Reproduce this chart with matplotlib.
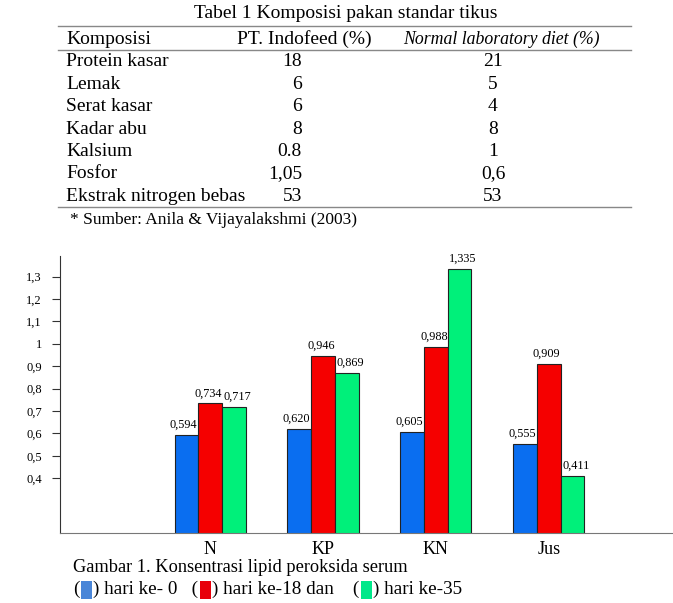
import numpy as np
from matplotlib import pyplot as plt
from matplotlib.patches import Rectangle
from matplotlib.offsetbox import TextArea, DrawingArea, HPacker, AnchoredOffsetbox

# table data
komposisi = ["Protein kasar", "Lemak", "Serat kasar", "Kadar abu", "Kalsium", "Fosfor", "Ekstrak nitrogen bebas"]
indofeed = ["18", "6", "6", "8", "0.8", "1,05", "53"]
normal_diet = ["21", "5", "4", "8", "1", "0,6", "53"]

# chart data
groups = ["N", "KP", "KN", "Jus"]
hari_0 = [0.594, 0.620, 0.605, 0.555]
hari_18 = [0.734, 0.946, 0.988, 0.909]
hari_35 = [0.717, 0.869, 1.335, 0.411]
yticks = [0.4, 0.5, 0.6, 0.7, 0.8, 0.9, 1.0, 1.1, 1.2, 1.3]

serif = "Liberation Serif"
W, H = 673, 603
fig = plt.figure(figsize=(W / 100, H / 100), dpi=100)

def fx(px):
    return px / W

def fy(py):
    return 1 - py / H

# ---- table ----
fig.text(fx(346), fy(14), "Tabel 1 Komposisi pakan standar tikus", ha="center", va="center",
         family=serif, fontsize=14)
for yy in (26, 50, 207):
    fig.add_artist(plt.Line2D([fx(58), fx(631)], [fy(yy), fy(yy)], color="#888888", lw=1))
fig.text(fx(66), fy(39), "Komposisi", ha="left", va="center", family=serif, fontsize=14)
fig.text(fx(237), fy(39), "PT. Indofeed (%)", ha="left", va="center", family=serif, fontsize=14)
fig.text(fx(403), fy(39), "Normal laboratory diet (%)", ha="left", va="center", family=serif,
         fontsize=12.8, style="italic")
for i, name in enumerate(komposisi):
    yy = 62 + i * 22.4
    fig.text(fx(66), fy(yy), name, ha="left", va="center", family=serif, fontsize=14)
    fig.text(fx(302), fy(yy), indofeed[i], ha="right", va="center", family=serif, fontsize=14)
    fig.text(fx(493), fy(yy), normal_diet[i], ha="center", va="center", family=serif, fontsize=14)
fig.text(fx(70), fy(220), "* Sumber: Anila & Vijayalakshmi (2003)", ha="left", va="center",
         family=serif, fontsize=12.5)

# ---- bar chart ----
ax = fig.add_axes([fx(60), fy(533), 1 - fx(60), fy(256) - fy(533)])
x = np.arange(len(groups))
w = 0.21
colors = ["#0a6ef0", "#f50000", "#00f07a"]
label_shift = [-2, -1.5, 2.5]
for k, (vals, c) in enumerate(zip([hari_0, hari_18, hari_35], colors)):
    bars = ax.bar(x + (k - 1) * w, vals, w, color=c, edgecolor="#222222", linewidth=0.8)
    for b, v in zip(bars, vals):
        ax.annotate(f"{v:.3f}".replace(".", ","), (b.get_x() + b.get_width() / 2, v),
                    xytext=(label_shift[k], 3), textcoords="offset points", ha="center", va="bottom",
                    family=serif, fontsize=8.8)

ax.set_xlim(-1.33, 4.1)
ax.set_ylim(0.156, 1.392)
ax.set_yticks(yticks)
ax.set_yticklabels([("%g" % t).replace(".", ",") for t in yticks], family=serif, fontsize=9)
ax.set_xticks(x)
ax.set_xticklabels(groups, family=serif, fontsize=13)
ax.tick_params(axis="x", length=0, pad=6)
ax.tick_params(axis="y", length=6, width=0.8, pad=7, color="#333333")
ax.spines["top"].set_visible(False)
ax.spines["right"].set_visible(False)
ax.spines["left"].set_color("#333333")
ax.spines["bottom"].set_color("#777777")

# ---- caption ----
fig.text(fx(73), fy(567), "Gambar 1. Konsentrasi lipid peroksida serum", ha="left", va="center",
         family=serif, fontsize=13.2)

legend_labels = [") hari ke- 0   (", ") hari ke-18 dan    (", ") hari ke-35"]
square_colors = ["#4a86d8", "#e8000a", "#00e88a"]
parts = [TextArea("(", textprops=dict(family=serif, fontsize=13.8))]
for sc, lab in zip(square_colors, legend_labels):
    da = DrawingArea(8, 12, 0, 0)
    da.add_artist(Rectangle((0, -1), 8, 13, facecolor=sc, edgecolor="none"))
    parts.append(da)
    parts.append(TextArea(lab, textprops=dict(family=serif, fontsize=13.8)))
pack = HPacker(children=parts, align="center", pad=0, sep=1)
anch = AnchoredOffsetbox(loc="center left", child=pack, pad=0, frameon=False,
                         bbox_to_anchor=(fx(73), fy(589)), bbox_transform=fig.transFigure,
                         borderpad=0)
fig.add_artist(anch)

fig.savefig("out.png", dpi=100)
